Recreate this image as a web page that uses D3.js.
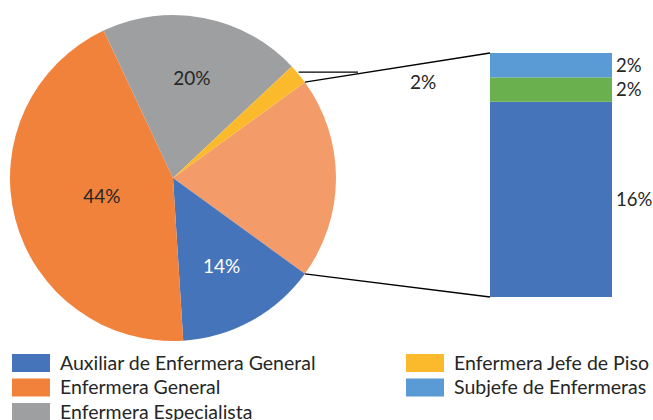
<!DOCTYPE html>
<meta charset="utf-8">
<title>Pie of bar</title>
<style>
  body { margin: 0; background: #fff; }
  svg text { font-family: Lato, "Open Sans", sans-serif; fill: #262626; }
</style>
<svg id="chart" width="653" height="420"></svg>
<script src="https://cdnjs.cloudflare.com/ajax/libs/d3/7.8.5/d3.min.js"></script>
<script>
// main pie, in Excel's clockwise order starting from the split-off slice
var pieNames  = ["Otros", "Auxiliar de Enfermera General", "Enfermera General",
                 "Enfermera Especialista", "Enfermera Jefe de Piso"];
var pieValues = [20, 14, 44, 20, 2];
var pieColors = ["#F49C69", "#4674BA", "#F0823C", "#9E9FA0", "#FBBA2C"];

// secondary bar, bottom to top
var barNames  = ["Otro", "Otro 2", "Subjefe de Enfermeras"];
var barValues = [16, 2, 2];
var barColors = ["#4674BA", "#6BB04F", "#5A9BD6"];

var legendNames  = ["Auxiliar de Enfermera General", "Enfermera General", "Enfermera Especialista",
                    "Enfermera Jefe de Piso", "Subjefe de Enfermeras"];
var legendColors = ["#4674BA", "#F0823C", "#9E9FA0", "#FBBA2C", "#5A9BD6"];

var svg = d3.select("#chart");
var cx = 173, cy = 178, r = 163;
var deg = Math.PI / 180;

// the split slice is centred on 3 o'clock
var total = d3.sum(pieValues);
var otherSpan = pieValues[0] / total * 360;
var pie = d3.pie().sort(null)
  .startAngle((90 - otherSpan / 2) * deg)
  .endAngle((90 - otherSpan / 2 + 360) * deg);
var arcs = pie(pieValues);
var arc = d3.arc().innerRadius(0).outerRadius(r);

var g = svg.append("g").attr("transform", "translate(" + cx + "," + cy + ")");
g.selectAll("path").data(arcs).enter().append("path")
  .attr("d", arc)
  .attr("fill", function(d, i) { return pieColors[i]; });

function pt(a, rad) { return [cx + rad * Math.sin(a), cy - rad * Math.cos(a)]; }

// labels inside the slices (skip split slice and the tiny one)
arcs.forEach(function(d, i) {
  if (i == 0 || d.value < 5) return;
  var mid = (d.startAngle + d.endAngle) / 2;
  var k = d.value > 30 ? 0.45 : 0.62;
  var p = pt(mid, r * k);
  svg.append("text")
    .attr("x", p[0]).attr("y", p[1])
    .attr("text-anchor", "middle").attr("dy", "0.35em")
    .style("font-size", "19px")
    .style("fill", i == 1 ? "#fff" : "#262626")
    .text(d.value + "%");
});

// small slice label, outside with a leader line
var small = arcs[4];
var sm = pt((small.startAngle + small.endAngle) / 2, r);
svg.append("path")
  .attr("d", "M" + sm[0] + "," + (sm[1] - 2) + "H358")
  .attr("stroke", "#000").attr("stroke-width", 1.3).attr("fill", "none");
svg.append("text")
  .attr("x", 423).attr("y", 82).attr("dy", "0.35em")
  .attr("text-anchor", "middle").style("font-size", "19px")
  .text(small.value + "%");

// stacked bar for the split slice
var bx0 = 490, bw = 122;
var y = d3.scaleLinear().domain([0, d3.sum(barValues)]).range([297, 53]);
var stack = d3.cumsum(barValues);
barValues.forEach(function(v, i) {
  var top = stack[i], bot = stack[i] - v;
  svg.append("rect")
    .attr("x", bx0).attr("width", bw)
    .attr("y", y(top)).attr("height", y(bot) - y(top))
    .attr("fill", barColors[i]);
  svg.append("text")
    .attr("x", bx0 + bw + 4).attr("y", (y(top) + y(bot)) / 2).attr("dy", "0.35em")
    .style("font-size", "18.5px")
    .text(v + "%");
});

// connector lines from the split slice to the bar
var o = arcs[0];
var p1 = pt(o.startAngle, r), p2 = pt(o.endAngle, r);
svg.append("path")
  .attr("d", "M" + p1[0] + "," + p1[1] + "L" + bx0 + "," + y(d3.sum(barValues)) +
             "M" + p2[0] + "," + p2[1] + "L" + bx0 + "," + y(0))
  .attr("stroke", "#000").attr("stroke-width", 1.3).attr("fill", "none");

// legend in two columns
var lg = svg.append("g");
legendNames.forEach(function(name, i) {
  var col = i < 3 ? 0 : 1, row = i < 3 ? i : i - 3;
  var lx = col == 0 ? 12 : 406, ly = 363 + row * 24.5;
  lg.append("rect")
    .attr("x", lx).attr("y", ly - 9).attr("width", 38).attr("height", 18)
    .attr("fill", legendColors[i]);
  lg.append("text")
    .attr("x", lx + 48).attr("y", ly).attr("dy", "0.35em")
    .style("font-size", "19.5px")
    .text(name);
});
</script>
